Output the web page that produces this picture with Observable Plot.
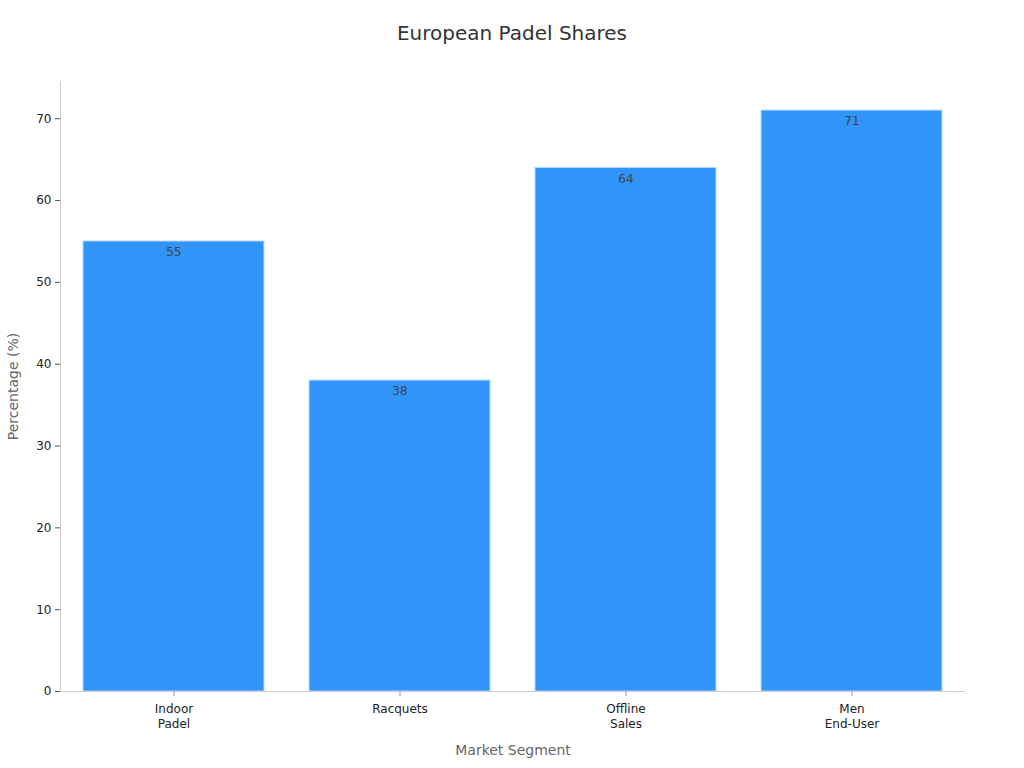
<!DOCTYPE html>
<html>
<head>
<meta charset="utf-8">
<script src="https://cdn.jsdelivr.net/npm/d3@7"></script>
<script src="https://cdn.jsdelivr.net/npm/@observablehq/plot@0.6"></script>
<style>
  body { margin: 0; background: #fff; font-family: "DejaVu Sans", sans-serif; }
  #title { height: 66px; line-height: 66px; text-align: center; font-size: 20px; color: #333; }
</style>
</head>
<body>
<div id="title">European Padel Shares</div>
<div id="chart"></div>
<script>
const categories = ["Indoor\nPadel", "Racquets", "Offline\nSales", "Men\nEnd-User"];
const values = [55, 38, 64, 71];
const yTicks = [0, 10, 20, 30, 40, 50, 60, 70];

const data = categories.map((c, i) => ({category: c, value: values[i]}));

const chart = Plot.plot({
  width: 1024,
  height: 702,
  marginTop: 15,
  marginBottom: 77,
  marginLeft: 60,
  marginRight: 59,
  style: {fontFamily: "DejaVu Sans, sans-serif", fontSize: "12px", color: "#333", background: "#fff"},
  x: {domain: categories, paddingInner: 0.2, paddingOuter: 0.1, label: null},
  y: {domain: [0, 74.55], label: null},
  marks: [
    Plot.frame({anchor: "left", stroke: "#ccc"}),
    Plot.barY(data, {x: "category", y: "value", fill: "#3094f8", stroke: "#b9dcff", strokeWidth: 1}),
    Plot.ruleY([0], {stroke: "#ccc"}),
    Plot.text(data, {x: "category", y: "value", text: d => String(d.value), dy: 11, fill: "#444", fontSize: 12}),
    Plot.axisY({ticks: yTicks, tickSize: 5, stroke: "#555", fill: "#222", label: null, fontSize: 12}),
    Plot.axisX({tickSize: 5, stroke: "#999", fill: "#222", label: null, fontSize: 12, tickPadding: 5, lineHeight: 1.3}),
    Plot.text(["Market Segment"], {frameAnchor: "bottom", dy: 63, fill: "#666", fontSize: 14}),
    Plot.text(["Percentage (%)"], {frameAnchor: "left", textAnchor: "middle", dx: -47, rotate: -90, fill: "#666", fontSize: 14})
  ]
});
document.getElementById("chart").appendChild(chart);
</script>
</body>
</html>
